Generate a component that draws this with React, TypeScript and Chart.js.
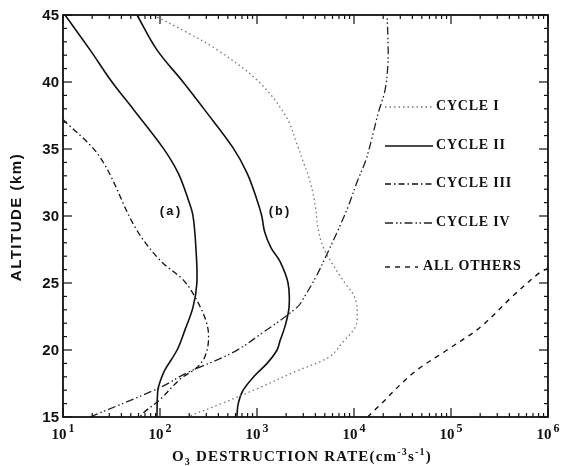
import React, { useEffect, useRef } from "react";
import { Chart, registerables } from "chart.js";

Chart.register(...registerables);

// ---- data (altitude km, O3 destruction rate cm^-3 s^-1) ----
const cycle1Alt = [45, 43.7, 42.4, 40, 37.4, 35.3, 34.2, 32.5, 30.7, 29.1, 27.7, 26.5, 25.2, 23.9, 22.6, 21.7, 20.6, 19.5, 18.4, 17.2, 16, 15];
const cycle1Rate = [85, 190, 390, 1050, 2000, 2600, 2950, 3550, 4000, 4250, 4800, 5900, 7700, 10200, 10800, 10300, 7700, 5600, 2500, 1070, 430, 190];

const cycle2aAlt = [45, 42.4, 40, 37.9, 35.1, 33.2, 31.2, 30, 27.5, 25, 23.2, 21.5, 20, 18.5, 17.8, 17, 15];
const cycle2aRate = [10.5, 19, 32, 54, 107, 154, 196, 219, 235, 240, 219, 181, 150, 112, 102, 95, 93];

const cycle2bAlt = [45, 42.4, 40, 37.9, 35.1, 33.2, 31.2, 30, 28.8, 27.6, 26.6, 25, 23.2, 21.8, 20.7, 20, 19, 18.1, 17, 16, 15];
const cycle2bRate = [58, 93, 173, 290, 565, 790, 1000, 1120, 1200, 1400, 1730, 2090, 2140, 1950, 1730, 1610, 1270, 950, 720, 640, 620];

const cycle3Alt = [37.2, 34.4, 29.1, 26.7, 25.2, 23.7, 22, 20.7, 19.5, 18.7, 17.8, 16.3, 15.3, 15];
const cycle3Rate = [10, 24, 56, 100, 175, 240, 303, 316, 290, 240, 160, 100, 67, 62];

const cycle4Alt = [15, 17.2, 18.3, 19.8, 21.3, 23.2, 24, 25.6, 27.2, 29, 30.7, 32.5, 34.2, 35.9, 37.7, 39.4, 41.4, 43.1, 45];
const cycle4Rate = [19, 100, 190, 560, 1150, 2600, 3100, 4150, 5300, 6900, 8700, 10700, 13300, 15400, 17800, 20900, 22400, 22400, 21900];

const othersAlt = [15, 15.7, 18.3, 20, 21.7, 24, 25.8, 26.1];
const othersRate = [13800, 17400, 41000, 91000, 200000, 430000, 830000, 1000000];

const yTicks = [15, 20, 25, 30, 35, 40, 45];
const xExponents = [1, 2, 3, 4, 5, 6];
const legendLabels = ["CYCLE I", "CYCLE II", "CYCLE III", "CYCLE IV", "ALL OTHERS"];
const curveLabels = ["(a)", "(b)"];

const pts = (alt: number[], rate: number[]) => alt.map((a, i) => ({ x: rate[i], y: a }));

const dash1 = [1.5, 3];
const dash2: number[] = [];
const dash3 = [6, 3, 1.5, 3];
const dash4 = [8, 3, 1.5, 2.5, 1.5, 3];
const dash5 = [5, 5];

const framePlugin = {
  id: "frame",
  afterDatasetsDraw(chart: any) {
    const { ctx, chartArea, scales } = chart;
    const { left, right, top, bottom } = chartArea;
    const xs = scales.x;
    const ys = scales.y;
    ctx.save();
    ctx.strokeStyle = "#111";
    ctx.fillStyle = "#111";
    ctx.setLineDash([]);
    ctx.lineWidth = 1.8;
    ctx.strokeRect(left, top, right - left, bottom - top);

    const seg = (x1: number, y1: number, x2: number, y2: number) => {
      ctx.beginPath();
      ctx.moveTo(x1, y1);
      ctx.lineTo(x2, y2);
      ctx.stroke();
    };

    // x ticks (inward, top & bottom)
    ctx.lineWidth = 1.2;
    for (const e of xExponents) {
      for (let m = 1; m <= 9; m++) {
        const v = m * Math.pow(10, e);
        if (v > 1e6) break;
        const px = xs.getPixelForValue(v);
        const len = m === 1 ? 9 : 4;
        seg(px, bottom, px, bottom - len);
        seg(px, top, px, top + len);
      }
    }
    // y ticks (inward, left & right)
    for (let a = 15; a <= 45; a++) {
      const py = ys.getPixelForValue(a);
      const len = a % 5 === 0 ? 9 : 4;
      seg(left, py, left + len, py);
      seg(right, py, right - len, py);
    }

    // y tick labels
    ctx.font = "bold 15px 'Liberation Sans', Arial, sans-serif";
    ctx.textAlign = "right";
    ctx.textBaseline = "middle";
    for (const t of yTicks) {
      ctx.fillText(String(t), left - 4, ys.getPixelForValue(t) + 1);
    }

    // x tick labels 10^n
    for (const e of xExponents) {
      const px = xs.getPixelForValue(Math.pow(10, e));
      ctx.font = "bold 15px 'Liberation Serif', serif";
      const wb = ctx.measureText("10").width;
      ctx.font = "bold 12px 'Liberation Serif', serif";
      const we = ctx.measureText(String(e)).width;
      const total = wb + 2 + we;
      const x0 = px - total / 2;
      ctx.textAlign = "left";
      ctx.textBaseline = "alphabetic";
      ctx.font = "bold 15px 'Liberation Serif', serif";
      ctx.fillText("10", x0, bottom + 22);
      ctx.font = "bold 12px 'Liberation Serif', serif";
      ctx.fillText(String(e), x0 + wb + 2, bottom + 15);
    }

    // y axis title
    ctx.save();
    ctx.translate(17, 217);
    ctx.rotate(-Math.PI / 2);
    ctx.font = "bold 15px 'Liberation Sans', Arial, sans-serif";
    (ctx as any).letterSpacing = "1.5px";
    ctx.textAlign = "center";
    ctx.textBaseline = "middle";
    ctx.fillText("ALTITUDE (km)", 0, 0);
    ctx.restore();

    // x axis title with sub/superscripts
    {
      const parts: [string, number, number][] = [
        ["O", 15, 0],
        ["3", 10, 4],
        [" DESTRUCTION RATE(cm", 15, 0],
        ["-3", 10, -6],
        ["s", 15, 0],
        ["-1", 10, -6],
        [")", 15, 0],
      ];
      (ctx as any).letterSpacing = "1.2px";
      let total = 0;
      for (const [s, sz] of parts) {
        ctx.font = `bold ${sz}px 'Liberation Serif', serif`;
        total += ctx.measureText(s).width;
      }
      let cx = 302 - total / 2;
      const base = 461;
      ctx.textAlign = "left";
      ctx.textBaseline = "alphabetic";
      for (const [s, sz, dy] of parts) {
        ctx.font = `bold ${sz}px 'Liberation Serif', serif`;
        ctx.fillText(s, cx, base + dy);
        cx += ctx.measureText(s).width;
      }
      (ctx as any).letterSpacing = "0px";
    }

    // legend
    const legY = [107, 146, 184, 223, 267];
    const legDash = [dash1, dash2, dash3, dash4, dash5];
    const legColor = ["#777", "#111", "#111", "#222", "#111"];
    const legWidth = [1.3, 1.6, 1.3, 1.3, 1.4];
    for (let i = 0; i < legendLabels.length; i++) {
      const x1 = 385;
      const x2 = i === 4 ? 418 : 433;
      ctx.strokeStyle = legColor[i];
      ctx.lineWidth = legWidth[i];
      ctx.setLineDash(legDash[i]);
      seg(x1, legY[i], x2, legY[i]);
      ctx.setLineDash([]);
      ctx.font = "bold 14px 'Liberation Serif', serif";
      (ctx as any).letterSpacing = "0.8px";
      ctx.textAlign = "left";
      ctx.textBaseline = "middle";
      ctx.fillStyle = "#111";
      ctx.fillText(legendLabels[i], i === 4 ? 423 : 436, legY[i] - 1);
      (ctx as any).letterSpacing = "0px";
    }

    // curve labels
    ctx.font = "bold 13px 'Liberation Mono', monospace";
    ctx.textAlign = "center";
    ctx.textBaseline = "middle";
    ctx.fillText(curveLabels[0], 170, 212);
    ctx.fillText(curveLabels[1], 279, 212);

    ctx.restore();
  },
};

export default function App() {
  const ref = useRef<HTMLCanvasElement | null>(null);
  useEffect(() => {
    document.body.style.margin = "0";
    const canvas = ref.current;
    if (!canvas) return;
    const common = { showLine: true, pointRadius: 0, tension: 0.35, fill: false };
    const chart = new Chart(canvas, {
      type: "scatter",
      data: {
        datasets: [
          { ...common, label: "CYCLE I", data: pts(cycle1Alt, cycle1Rate), borderColor: "#777", borderWidth: 1.3, borderDash: dash1 },
          { ...common, label: "CYCLE II (a)", data: pts(cycle2aAlt, cycle2aRate), borderColor: "#111", borderWidth: 1.6, borderDash: dash2 },
          { ...common, label: "CYCLE II (b)", data: pts(cycle2bAlt, cycle2bRate), borderColor: "#111", borderWidth: 1.6, borderDash: dash2 },
          { ...common, label: "CYCLE III", data: pts(cycle3Alt, cycle3Rate), borderColor: "#111", borderWidth: 1.3, borderDash: dash3 },
          { ...common, label: "CYCLE IV", data: pts(cycle4Alt, cycle4Rate), borderColor: "#222", borderWidth: 1.3, borderDash: dash4 },
          { ...common, label: "ALL OTHERS", data: pts(othersAlt, othersRate), borderColor: "#111", borderWidth: 1.4, borderDash: dash5 },
        ],
      },
      options: {
        responsive: false,
        animation: false,
        layout: { padding: { left: 63, right: 16, top: 15, bottom: 49 } },
        plugins: { legend: { display: false }, tooltip: { enabled: false } },
        scales: {
          x: { type: "logarithmic", min: 10, max: 1e6, display: false },
          y: { type: "linear", min: 15, max: 45, display: false },
        },
      },
      plugins: [framePlugin],
    } as any);
    return () => chart.destroy();
  }, []);
  return (
    <div style={{ width: 564, height: 466, background: "#fff" }}>
      <canvas ref={ref} width={564} height={466} style={{ display: "block" }} />
    </div>
  );
}
